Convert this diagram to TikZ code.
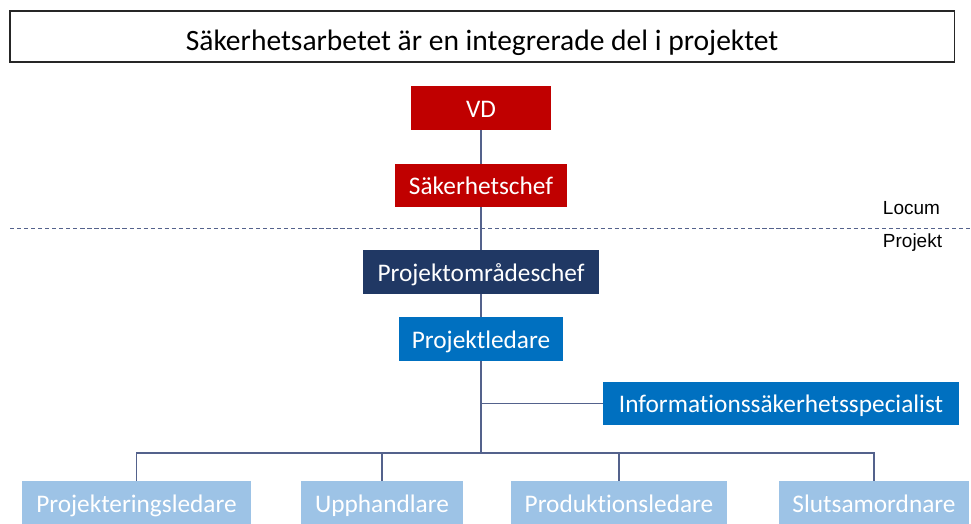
\documentclass[tikz,border=0pt]{standalone}
\usepackage{fontspec}
\setmainfont{Carlito}[Ligatures=NoCommon]
\newfontfamily\arialfont{Liberation Sans}
\usetikzlibrary{positioning}

\definecolor{vdred}{RGB}{192,0,0}
\definecolor{navyblue}{RGB}{32,56,100}
\definecolor{midblue}{RGB}{0,112,192}
\definecolor{paleblue}{RGB}{157,195,230}
\definecolor{linkgray}{RGB}{84,98,140}

\begin{document}
\begin{tikzpicture}[x=0.025cm, y=-0.025cm,
    box/.style={minimum height=1.075cm, inner sep=0pt, text height=17pt, text depth=3.5pt,
                text=white, font=\fontsize{18}{20}\selectfont},
    link/.style={draw=linkgray, line width=0.8pt}]
    \useasboundingbox (0,0) rectangle (971,524);

    % Title
    \node[draw=black!85, line width=0.9pt, minimum width=23.6cm, minimum height=1.275cm, inner sep=0pt,
          text height=24pt, text depth=3.5pt,
          font=\fontsize{21}{24}\selectfont] (title) at (482,36.5) {Säkerhetsarbetet är en integrerade del i projektet};

    % Nodes for the Locum part
    \node[box, fill=vdred, minimum width=3.475cm] (vd) at (481,108) {VD};
    \node[box, fill=vdred, minimum width=4.275cm] (sakchef) at (481,185.5) {Säkerhetschef};

    % Dividing line and side labels
    \coordinate (lineL) at (10,228);
    \coordinate (lineR) at (971,228);
    \draw[linkgray, dashed, dash pattern=on 3pt off 2pt, line width=0.6pt] (lineL) -- (lineR);
    \node[font=\arialfont\fontsize{13.5}{15}\selectfont, anchor=west] (locum) at (878,208) {Locum};
    \node[font=\arialfont\fontsize{13.5}{15}\selectfont, anchor=west] (projekt) at (878,243) {Projekt};

    % Nodes for the project part
    \node[box, fill=navyblue, minimum width=5.9cm] (omrchef) at (481,272) {Projektområdeschef};
    \node[box, fill=midblue, minimum width=4.1cm] (ledare) at (481,339) {Projektledare};
    \node[box, fill=midblue, minimum width=8.9cm] (infospec) at (781,403.5) {Informationssäkerhetsspecialist};

    % Bottom row
    \node[box, fill=paleblue, minimum width=5.725cm] (projering) at (136.5,503) {Projekteringsledare};
    \node[box, fill=paleblue, minimum width=4.05cm] (upphand) at (382,503) {Upphandlare};
    \node[box, fill=paleblue, minimum width=5.4cm] (produk) at (619,503) {Produktionsledare};
    \node[box, fill=paleblue, minimum width=4.75cm] (slutsam) at (874,503) {Slutsamordnare};

    % Connectors
    \coordinate (bus) at (481,453);
    \coordinate (branch) at (bus |- infospec.west);
    \draw[link] (vd) -- (sakchef);
    \draw[link] (sakchef) -- (omrchef);
    \draw[link] (omrchef) -- (ledare);
    \draw[link] (ledare) -- (bus);
    \draw[link] (branch) -- (infospec.west);
    \draw[link] (bus) -| (projering);
    \draw[link] (bus) -| (upphand);
    \draw[link] (bus) -| (produk);
    \draw[link] (bus) -| (slutsam);

\end{tikzpicture}
\end{document}
